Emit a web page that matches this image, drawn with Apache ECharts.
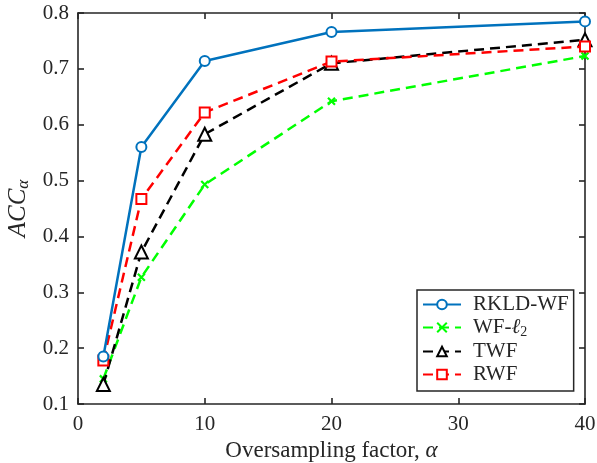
<!DOCTYPE html>
<html>
<head>
<meta charset="utf-8">
<script src="https://cdn.jsdelivr.net/npm/echarts@6/dist/echarts.min.js"></script>
<style>
  html, body { margin: 0; padding: 0; background: #fff; }
  #chart { width: 597px; height: 463px; }
</style>
</head>
<body>
<div id="chart"></div>
<script>
// Oversampling factors (x values)
const alphas = [2, 5, 10, 20, 40];

// Accuracy for each method
const rkldWF = [0.185, 0.560, 0.714, 0.766, 0.785];
const wfL2   = [0.145, 0.327, 0.493, 0.642, 0.723];
const twf    = [0.135, 0.372, 0.583, 0.710, 0.752];
const rwf    = [0.178, 0.467, 0.622, 0.713, 0.740];

const seriesNames = ['RKLD-WF', 'WF-ℓ2', 'TWF', 'RWF'];
const yTicks = [0.1, 0.2, 0.3, 0.4, 0.5, 0.6, 0.7, 0.8];
const xTicks = [0, 10, 20, 30, 40];

const FONT = '"Liberation Serif", "DejaVu Serif", serif';
const AX = '#262626';

function pairs(ys) { return alphas.map((x, i) => [x, ys[i]]); }

const chart = echarts.init(document.getElementById('chart'), null, { renderer: 'canvas' });

const axisCommon = {
  type: 'value',
  axisLine: { show: true, onZero: false, lineStyle: { color: AX, width: 1.6 } },
  axisTick: { show: true, inside: true, length: 6, lineStyle: { color: AX, width: 1.6 } },
  splitLine: { show: false }
};

const crossPath = 'path://M0,0L10,10M10,0L0,10';

chart.setOption({
  animation: false,
  backgroundColor: '#fff',
  grid: { left: 78, right: 12, top: 13, bottom: 59, containLabel: false, outerBoundsMode: 'none' },
  xAxis: [
    Object.assign({}, axisCommon, {
      min: 0, max: 40, interval: 10, position: 'bottom',
      axisLabel: { color: AX, fontFamily: FONT, fontSize: 21, margin: 10,
        formatter: v => xTicks.includes(v) ? String(v) : '' },
      name: 'Oversampling factor, {i|α}',
      nameLocation: 'middle', nameGap: 34,
      nameTextStyle: { color: AX, fontFamily: FONT, fontSize: 23,
        rich: { i: { fontStyle: 'italic', fontFamily: FONT, fontSize: 23, color: AX } } }
    }),
    Object.assign({}, axisCommon, {
      min: 0, max: 40, interval: 10, position: 'top',
      axisLabel: { show: false }
    })
  ],
  yAxis: [
    Object.assign({}, axisCommon, {
      min: 0.1, max: 0.8, interval: 0.1, position: 'left',
      axisLabel: { color: AX, fontFamily: FONT, fontSize: 21, margin: 9,
        formatter: v => yTicks.some(t => Math.abs(t - v) < 1e-9) ? v.toFixed(1) : '' },
      name: '{i|ACC}{s|α}',
      nameLocation: 'middle', nameGap: 41, nameRotate: 90,
      nameTextStyle: { color: AX, fontFamily: FONT, fontSize: 25,
        rich: {
          i: { fontStyle: 'italic', fontFamily: FONT, fontSize: 25, color: AX },
          s: { fontStyle: 'italic', fontFamily: FONT, fontSize: 17, color: AX, verticalAlign: 'bottom', padding: [10, 0, 0, 0] }
        } }
    }),
    Object.assign({}, axisCommon, {
      min: 0.1, max: 0.8, interval: 0.1, position: 'right',
      axisLabel: { show: false }
    })
  ],
  legend: {
    orient: 'vertical',
    left: 417, top: 290,
    padding: [4, 5, 6, 5],
    backgroundColor: '#fff',
    borderColor: AX, borderWidth: 1.5,
    itemWidth: 38, itemHeight: 12, itemGap: 2,
    textStyle: { color: AX, fontFamily: FONT, fontSize: 21, padding: [0, 0, 0, 7],
      rich: {
        t: { fontFamily: FONT, fontSize: 21, color: AX },
        i: { fontStyle: 'italic', fontFamily: FONT, fontSize: 21, color: AX },
        s: { fontFamily: FONT, fontSize: 14, color: AX, verticalAlign: 'bottom', padding: [9, 0, 0, 0] }
      } },
    formatter: name => name === 'WF-ℓ2' ? '{t|WF-}{i|ℓ}{s|2}' : name,
    data: seriesNames
  },
  series: [
    {
      name: seriesNames[0], type: 'line', data: pairs(rkldWF),
      symbol: 'emptyCircle', symbolSize: 10,
      lineStyle: { color: '#0072BD', width: 2.5 },
      itemStyle: { color: '#0072BD', borderColor: '#0072BD', borderWidth: 2.2 },
      z: 5
    },
    {
      name: seriesNames[1], type: 'line', data: pairs(wfL2),
      symbol: crossPath, symbolSize: 7,
      lineStyle: { color: '#00ff00', width: 2.5, type: [10, 6] },
      itemStyle: { color: '#00ff00', borderColor: '#00ff00', borderWidth: 2.2 },
      z: 2
    },
    {
      name: seriesNames[2], type: 'line', data: pairs(twf),
      symbol: 'emptyTriangle', symbolSize: 13,
      lineStyle: { color: '#000000', width: 2.5, type: [10, 6] },
      itemStyle: { color: '#000000', borderColor: '#000000', borderWidth: 2.2 },
      z: 3
    },
    {
      name: seriesNames[3], type: 'line', data: pairs(rwf),
      symbol: 'emptyRect', symbolSize: 10,
      lineStyle: { color: '#ff0000', width: 2.5, type: [10, 6] },
      itemStyle: { color: '#ff0000', borderColor: '#ff0000', borderWidth: 2.2 },
      z: 4
    }
  ]
});
</script>
</body>
</html>
